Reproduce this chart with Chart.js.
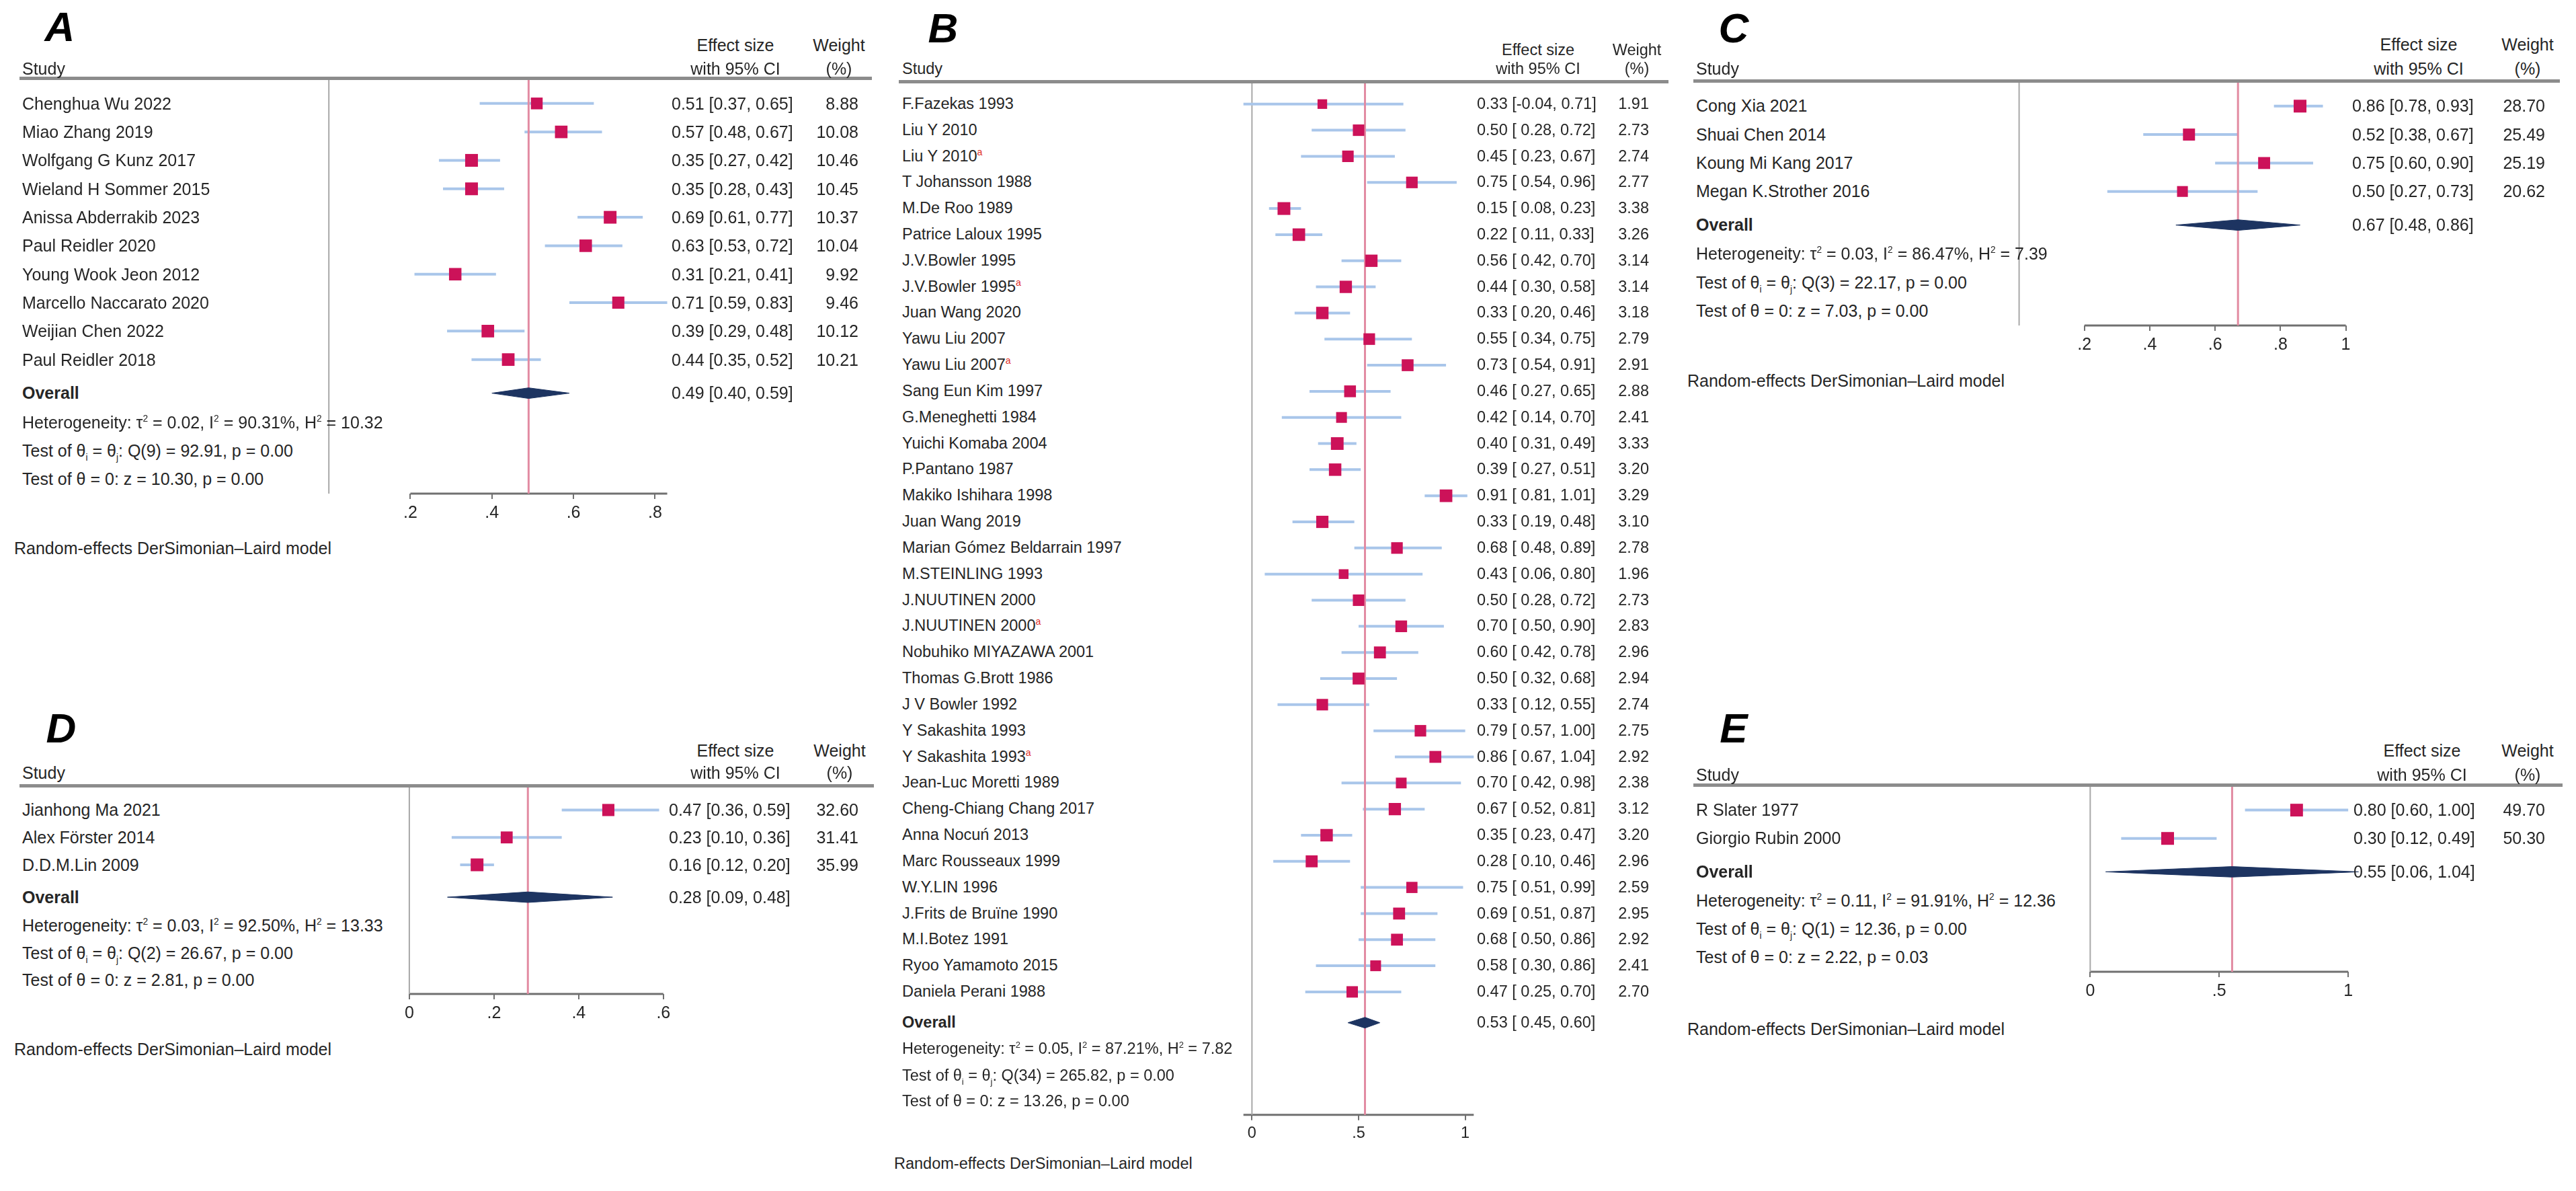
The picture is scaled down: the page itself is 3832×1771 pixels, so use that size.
<!DOCTYPE html>
<html>
<head>
<meta charset="utf-8">
<script src="https://cdn.jsdelivr.net/npm/chart.js@4.4.1/dist/chart.umd.min.js"></script>
<style>
  html, body { margin: 0; padding: 0; background: #fff; }
  #page { position: relative; width: 3832px; height: 1771px; overflow: hidden;
          font-family: "Liberation Sans", Arial, sans-serif; color: #262626; }
  #page canvas { position: absolute; }
  .t { position: absolute; white-space: pre; line-height: 1; transform: translateY(-50%); }
  .t.c { transform: translate(-50%, -50%); }
  .t.r { transform: translate(-100%, -50%); }
  .t sup, .t sub { font-size: 0.55em; line-height: 0; }
  .t .mark { color: #e0302a; font-size: 0.6em; vertical-align: super; line-height: 0; }
  .letter { position: absolute; font-size: 62px; font-weight: bold; font-style: italic;
            line-height: 1; color: #000; transform: translate(-50%, -50%); }
  .rule { position: absolute; height: 5px; background: #8c8c8c; }
</style>
</head>
<body>
<div id="page"></div>
<script>
// ---------- panel A
const studiesA = ["Chenghua Wu 2022", "Miao Zhang 2019", "Wolfgang G Kunz 2017", "Wieland H Sommer 2015",
  "Anissa Abderrakib 2023", "Paul Reidler 2020", "Young Wook Jeon 2012", "Marcello Naccarato 2020",
  "Weijian Chen 2022", "Paul Reidler 2018"];
const esA = [0.51, 0.57, 0.35, 0.35, 0.69, 0.63, 0.31, 0.71, 0.39, 0.44];
const loA = [0.37, 0.48, 0.27, 0.28, 0.61, 0.53, 0.21, 0.59, 0.29, 0.35];
const hiA = [0.65, 0.67, 0.42, 0.43, 0.77, 0.72, 0.41, 0.83, 0.48, 0.52];
const wtA = [8.88, 10.08, 10.46, 10.45, 10.37, 10.04, 9.92, 9.46, 10.12, 10.21];
const overallA = [0.49, 0.40, 0.59];
const hetA = ["0.02", "90.31", "10.32"];
const qA = ["9", "92.91", "0.00"];
const zA = ["10.30", "0.00"];
const ticksA = [0.2, 0.4, 0.6, 0.8];
const tickLabelsA = [".2", ".4", ".6", ".8"];

// ---------- panel B
const studiesB = ["F.Fazekas 1993", "Liu Y 2010", "Liu Y 2010", "T Johansson 1988", "M.De Roo 1989",
  "Patrice Laloux 1995", "J.V.Bowler 1995", "J.V.Bowler 1995", "Juan Wang 2020", "Yawu Liu 2007",
  "Yawu Liu 2007", "Sang Eun Kim 1997", "G.Meneghetti 1984", "Yuichi Komaba 2004", "P.Pantano 1987",
  "Makiko Ishihara 1998", "Juan Wang 2019", "Marian Gómez Beldarrain 1997", "M.STEINLING 1993",
  "J.NUUTINEN 2000", "J.NUUTINEN 2000", "Nobuhiko MIYAZAWA 2001", "Thomas G.Brott 1986",
  "J V Bowler 1992", "Y Sakashita 1993", "Y Sakashita 1993", "Jean-Luc Moretti 1989",
  "Cheng-Chiang Chang 2017", "Anna Nocuń 2013", "Marc Rousseaux 1999", "W.Y.LIN 1996",
  "J.Frits de Bruïne 1990", "M.I.Botez 1991", "Ryoo Yamamoto 2015", "Daniela Perani 1988"];
const markB = [0,0,1,0,0,0,0,1,0,0,1,0,0,0,0,0,0,0,0,0,1,0,0,0,0,1,0,0,0,0,0,0,0,0,0];
const esB = [0.33, 0.50, 0.45, 0.75, 0.15, 0.22, 0.56, 0.44, 0.33, 0.55, 0.73, 0.46, 0.42, 0.40, 0.39,
  0.91, 0.33, 0.68, 0.43, 0.50, 0.70, 0.60, 0.50, 0.33, 0.79, 0.86, 0.70, 0.67, 0.35, 0.28, 0.75,
  0.69, 0.68, 0.58, 0.47];
const loB = [-0.04, 0.28, 0.23, 0.54, 0.08, 0.11, 0.42, 0.30, 0.20, 0.34, 0.54, 0.27, 0.14, 0.31, 0.27,
  0.81, 0.19, 0.48, 0.06, 0.28, 0.50, 0.42, 0.32, 0.12, 0.57, 0.67, 0.42, 0.52, 0.23, 0.10, 0.51,
  0.51, 0.50, 0.30, 0.25];
const hiB = [0.71, 0.72, 0.67, 0.96, 0.23, 0.33, 0.70, 0.58, 0.46, 0.75, 0.91, 0.65, 0.70, 0.49, 0.51,
  1.01, 0.48, 0.89, 0.80, 0.72, 0.90, 0.78, 0.68, 0.55, 1.00, 1.04, 0.98, 0.81, 0.47, 0.46, 0.99,
  0.87, 0.86, 0.86, 0.70];
const wtB = [1.91, 2.73, 2.74, 2.77, 3.38, 3.26, 3.14, 3.14, 3.18, 2.79, 2.91, 2.88, 2.41, 3.33, 3.20,
  3.29, 3.10, 2.78, 1.96, 2.73, 2.83, 2.96, 2.94, 2.74, 2.75, 2.92, 2.38, 3.12, 3.20, 2.96, 2.59,
  2.95, 2.92, 2.41, 2.70];
const overallB = [0.53, 0.45, 0.60];
const hetB = ["0.05", "87.21", "7.82"];
const qB = ["34", "265.82", "0.00"];
const zB = ["13.26", "0.00"];
const ticksB = [0, 0.5, 1];
const tickLabelsB = ["0", ".5", "1"];

// ---------- panel C
const studiesC = ["Cong Xia 2021", "Shuai Chen 2014", "Koung Mi Kang 2017", "Megan K.Strother 2016"];
const esC = [0.86, 0.52, 0.75, 0.50];
const loC = [0.78, 0.38, 0.60, 0.27];
const hiC = [0.93, 0.67, 0.90, 0.73];
const wtC = [28.70, 25.49, 25.19, 20.62];
const overallC = [0.67, 0.48, 0.86];
const hetC = ["0.03", "86.47", "7.39"];
const qC = ["3", "22.17", "0.00"];
const zC = ["7.03", "0.00"];
const ticksC = [0.2, 0.4, 0.6, 0.8, 1];
const tickLabelsC = [".2", ".4", ".6", ".8", "1"];

// ---------- panel D
const studiesD = ["Jianhong Ma 2021", "Alex Förster 2014", "D.D.M.Lin 2009"];
const esD = [0.47, 0.23, 0.16];
const loD = [0.36, 0.10, 0.12];
const hiD = [0.59, 0.36, 0.20];
const wtD = [32.60, 31.41, 35.99];
const overallD = [0.28, 0.09, 0.48];
const hetD = ["0.03", "92.50", "13.33"];
const qD = ["2", "26.67", "0.00"];
const zD = ["2.81", "0.00"];
const ticksD = [0, 0.2, 0.4, 0.6];
const tickLabelsD = ["0", ".2", ".4", ".6"];

// ---------- panel E
const studiesE = ["R Slater 1977", "Giorgio Rubin 2000"];
const esE = [0.80, 0.30];
const loE = [0.60, 0.12];
const hiE = [1.00, 0.49];
const wtE = [49.70, 50.30];
const overallE = [0.55, 0.06, 1.04];
const hetE = ["0.11", "91.91", "12.36"];
const qE = ["1", "12.36", "0.00"];
const zE = ["2.22", "0.03"];
const ticksE = [0, 0.5, 1];
const tickLabelsE = ["0", ".5", "1"];

const footnote = "Random-effects DerSimonian\u2013Laird model";

// where each panel sits on the page
const panels = [
  { name: "A", studies: studiesA, es: esA, lo: loA, hi: hiA, wt: wtA, overall: overallA, het: hetA, q: qA, z: zA,
    ticks: ticksA, tickLabels: tickLabelsA,
    zeroPx: 489, ppu: 606, xMin: -0.03, xMax: 0.9, row0: 154, step: 42.7, fs: 25,
    studyX: 33, esX: 999, wtRight: 1277, esHead: 1094, wtHead: 1248, head1: 67, head2: 102,
    rule: [29, 1297], letter: [89, 40], foot: [21, 815] },
  { name: "B", studies: studiesB, marks: markB, es: esB, lo: loB, hi: hiB, wt: wtB, overall: overallB, het: hetB, q: qB, z: zB,
    ticks: ticksB, tickLabels: tickLabelsB,
    zeroPx: 1862, ppu: 317, xMin: -0.08, xMax: 1.08, row0: 155, step: 38.97, fs: 23.5,
    studyX: 1342, esX: 2197, wtRight: 2453, esHead: 2288, wtHead: 2435, head1: 75, head2: 103,
    rule: [1337, 2482], letter: [1403, 42], foot: [1330, 1731] },
  { name: "C", studies: studiesC, es: esC, lo: loC, hi: hiC, wt: wtC, overall: overallC, het: hetC, q: qC, z: zC,
    ticks: ticksC, tickLabels: tickLabelsC,
    zeroPx: 3004, ppu: 486, xMin: -0.03, xMax: 1.04, row0: 158, step: 43, fs: 25,
    studyX: 2523, esX: 3499, wtRight: 3786, esHead: 3598, wtHead: 3760, head1: 66, head2: 102,
    rule: [2519, 3808], letter: [2579, 42], foot: [2510, 566] },
  { name: "D", studies: studiesD, es: esD, lo: loD, hi: hiD, wt: wtD, overall: overallD, het: hetD, q: qD, z: zD,
    ticks: ticksD, tickLabels: tickLabelsD,
    zeroPx: 609, ppu: 630, xMin: -0.03, xMax: 0.64, row0: 1205, step: 41.5, fs: 25,
    studyX: 33, esX: 995, wtRight: 1277, esHead: 1094, wtHead: 1249, head1: 1116, head2: 1149,
    rule: [29, 1300], letter: [91, 1083], foot: [21, 1560] },
  { name: "E", studies: studiesE, es: esE, lo: loE, hi: hiE, wt: wtE, overall: overallE, het: hetE, q: qE, z: zE,
    ticks: ticksE, tickLabels: tickLabelsE,
    zeroPx: 3109, ppu: 384, xMin: -0.04, xMax: 1.07, row0: 1205, step: 43, fs: 25,
    studyX: 2523, esX: 3501, wtRight: 3786, esHead: 3603, wtHead: 3760, head1: 1116, head2: 1152,
    rule: [2519, 3812], letter: [2579, 1083], foot: [2510, 1530] }
];

const page = document.getElementById("page");

function addText(html, x, y, fs, cls, extra) {
  const d = document.createElement("div");
  d.className = "t" + (cls ? " " + cls : "");
  d.style.left = x + "px";
  d.style.top = y + "px";
  d.style.fontSize = fs + "px";
  if (extra) d.style.cssText += extra;
  d.innerHTML = html;
  page.appendChild(d);
  return d;
}

const f2 = v => v.toFixed(2);

function drawPanel(p) {
  const n = p.studies.length;
  const ovIdx = n - 1 + 1.18;
  const topIdx = -0.87, axisIdx = ovIdx + 3.53;
  const statIdx = [ovIdx + 1.02, ovIdx + 2.03, ovIdx + 3.02];
  const dh = 8 / p.step;           // half height of the diamond, in rows
  const pad = 20, tickLen = 8, tickPad = 6;
  const axisH = tickLen + tickPad + Math.ceil(p.fs * 1.2);

  const left = p.zeroPx + p.xMin * p.ppu, right = p.zeroPx + p.xMax * p.ppu;
  const top = p.row0 + topIdx * p.step, bottom = p.row0 + axisIdx * p.step;

  // axis line covers the ticks and the study CIs
  const axLo = Math.min(p.ticks[0], Math.min(...p.lo));
  const axHi = Math.max(p.ticks[p.ticks.length - 1], Math.max(...p.hi));

  const cv = document.createElement("canvas");
  cv.width = Math.round(right - left) + 2 * pad;
  cv.height = Math.round(bottom - top) + pad + axisH;
  cv.style.left = (left - pad) + "px";
  cv.style.top = (top - pad) + "px";
  page.appendChild(cv);

  const ciData = [];
  p.lo.forEach((lo, i) => { ciData.push({ x: lo, y: i }, { x: p.hi[i], y: i }, { x: null, y: null }); });
  const wMax = Math.max(...p.wt);
  const [est, olo, ohi] = p.overall;

  const chart = new Chart(cv, {
    type: "line",
    data: {
      datasets: [
        { label: "no effect", data: [{ x: 0, y: topIdx }, { x: 0, y: axisIdx }],
          borderColor: "#a8a8a8", borderWidth: 2, pointRadius: 0, order: 5, clip: false },
        { label: "axis", data: [{ x: axLo, y: axisIdx }, { x: axHi, y: axisIdx }],
          borderColor: "#707070", borderWidth: 3, pointRadius: 0, order: 5, clip: false },
        { label: "CI", data: ciData, borderColor: "#a9c6ea", borderWidth: 4, pointRadius: 0,
          spanGaps: false, order: 4, clip: false },
        { label: "overall", data: [{ x: est, y: topIdx }, { x: est, y: axisIdx }],
          borderColor: "#e28ba2", borderWidth: 3, pointRadius: 0, order: 3, clip: false },
        { label: "diamond top", data: [{ x: olo, y: ovIdx }, { x: est, y: ovIdx - dh }, { x: ohi, y: ovIdx }],
          borderColor: "#1d3461", borderWidth: 1, pointRadius: 0, fill: false, order: 2, clip: false },
        { label: "diamond bottom", data: [{ x: olo, y: ovIdx }, { x: est, y: ovIdx + dh }, { x: ohi, y: ovIdx }],
          borderColor: "#1d3461", borderWidth: 1, backgroundColor: "#1d3461", pointRadius: 0,
          fill: "-1", order: 2, clip: false },
        { label: "effect size", data: p.es.map((v, i) => ({ x: v, y: i })), showLine: false,
          pointStyle: "rect", backgroundColor: "#cc1259", borderWidth: 0, order: 1, clip: false,
          pointRadius: ctx => 19 * Math.sqrt(p.wt[ctx.dataIndex] / wMax) / Math.SQRT2 }
      ]
    },
    options: {
      responsive: false,
      animation: false,
      events: [],
      layout: { padding: { left: pad, right: pad, top: pad, bottom: 0 } },
      plugins: { legend: { display: false }, tooltip: { enabled: false } },
      scales: {
        x: {
          type: "linear", min: p.xMin, max: p.xMax,
          afterBuildTicks: s => { s.ticks = p.ticks.map(v => ({ value: v })); },
          ticks: { callback: (v, i) => p.tickLabels[i], autoSkip: false, maxRotation: 0,
                   padding: tickPad, color: "#262626",
                   font: { family: "Liberation Sans", size: p.fs, lineHeight: 1.2 } },
          grid: { display: true, drawOnChartArea: false, drawTicks: true, tickLength: tickLen,
                  color: "#707070", lineWidth: 2 },
          border: { display: false }
        },
        y: { type: "linear", reverse: true, min: topIdx, max: axisIdx, display: false }
      }
    }
  });

  const cTop = top - pad;
  const yPx = idx => cTop + chart.scales.y.getPixelForValue(idx);
  const fs = p.fs;

  // header
  const rule = document.createElement("div");
  rule.className = "rule";
  rule.style.left = p.rule[0] + "px";
  rule.style.width = (p.rule[1] - p.rule[0]) + "px";
  rule.style.top = (yPx(topIdx) - 2.5) + "px";
  page.appendChild(rule);

  const letter = document.createElement("div");
  letter.className = "letter";
  letter.style.left = p.letter[0] + "px";
  letter.style.top = p.letter[1] + "px";
  letter.textContent = p.name;
  page.appendChild(letter);

  addText("Study", p.studyX, p.head2, fs);
  addText("Effect size", p.esHead, p.head1, fs, "c");
  addText("with 95% CI", p.esHead, p.head2, fs, "c");
  addText("Weight", p.wtHead, p.head1, fs, "c");
  addText("(%)", p.wtHead, p.head2, fs, "c");

  // rows
  const padNeg = p.lo.some(v => v < 0);
  const ciText = (e, l, h) => f2(e) + " [" + (padNeg && l >= 0 ? " " : "") + f2(l) + ", " + f2(h) + "]";
  p.studies.forEach((s, i) => {
    const mark = p.marks && p.marks[i] ? '<span class="mark">a</span>' : "";
    addText(s + mark, p.studyX, yPx(i), fs);
    addText(ciText(p.es[i], p.lo[i], p.hi[i]), p.esX, yPx(i), fs);
    addText(f2(p.wt[i]), p.wtRight, yPx(i), fs, "r");
  });
  addText("Overall", p.studyX, yPx(ovIdx), fs, "", "font-weight:bold;");
  addText(ciText(est, olo, ohi), p.esX, yPx(ovIdx), fs);

  addText("Heterogeneity: \u03c4<sup>2</sup> = " + p.het[0] + ", I<sup>2</sup> = " + p.het[1] +
          "%, H<sup>2</sup> = " + p.het[2], p.studyX, yPx(statIdx[0]), fs);
  addText("Test of \u03b8<sub>i</sub> = \u03b8<sub>j</sub>: Q(" + p.q[0] + ") = " + p.q[1] + ", p = " + p.q[2],
          p.studyX, yPx(statIdx[1]), fs);
  addText("Test of \u03b8 = 0: z = " + p.z[0] + ", p = " + p.z[1], p.studyX, yPx(statIdx[2]), fs);

  addText(footnote, p.foot[0], p.foot[1], fs);
}

panels.forEach(drawPanel);
</script>
</body>
</html>
